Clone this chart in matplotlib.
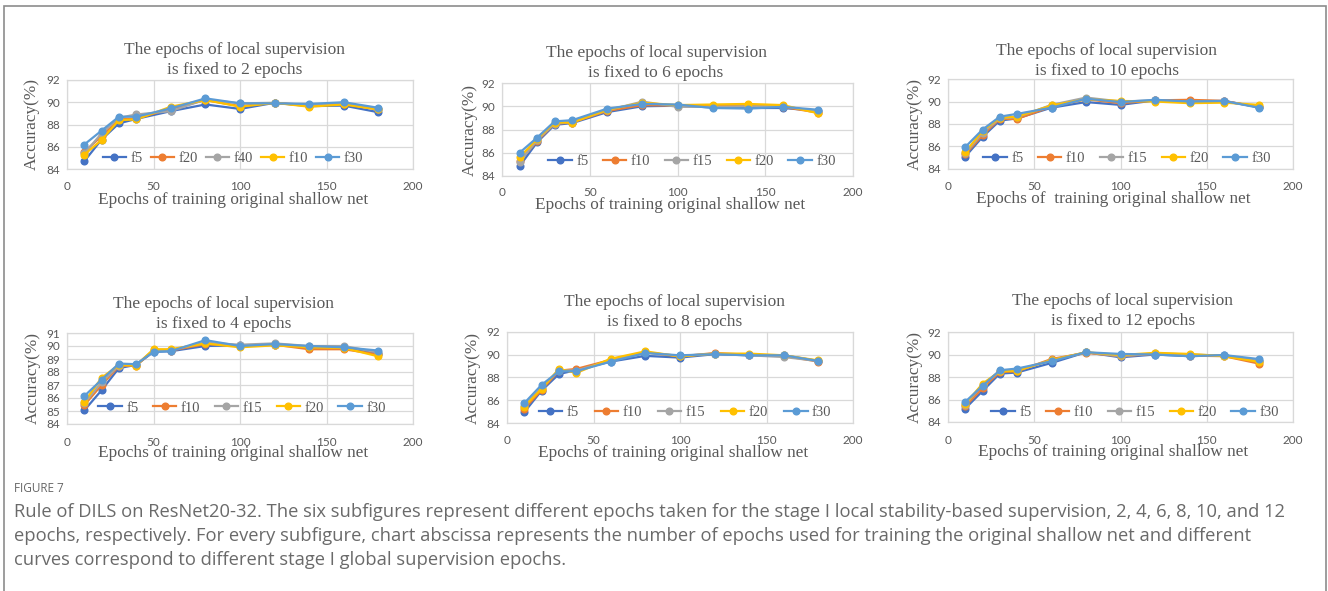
import matplotlib.pyplot as plt
from matplotlib.patches import Rectangle

W, H = 1328, 591

x_main = [10, 20, 30, 40, 60, 80, 100, 120, 140, 160, 180]
x_four = [10, 20, 30, 40, 50, 60, 80, 100, 120, 140, 160, 180]

labels_2 = ["f5", "f20", "f40", "f10", "f30"]
labels_std = ["f5", "f10", "f15", "f20", "f30"]

# local supervision = 2 epochs
e2_f5 = [84.7, 86.65, 88.1, 88.5, 89.2, 89.8, 89.4, 89.95, 89.65, 89.7, 89.1]
e2_f20 = [85.55, 86.95, 88.45, 88.55, 89.4, 90.2, 89.65, 89.95, 89.7, 89.85, 89.35]
e2_f40 = [85.4, 87.2, 88.6, 88.9, 89.2, 90.25, 89.9, 89.95, 89.75, 89.9, 89.4]
e2_f10 = [85.3, 86.6, 88.4, 88.45, 89.6, 90.2, 89.6, 89.95, 89.6, 89.8, 89.35]
e2_f30 = [86.2, 87.45, 88.7, 88.7, 89.45, 90.35, 89.9, 89.9, 89.85, 90.0, 89.5]

# 6 epochs
e6_f5 = [84.85, 86.9, 88.4, 88.55, 89.5, 90.0, 90.05, 89.9, 89.85, 89.85, 89.6]
e6_f10 = [85.3, 87.0, 88.5, 88.6, 89.6, 90.1, 90.05, 90.0, 90.05, 89.95, 89.45]
e6_f15 = [85.2, 87.1, 88.5, 88.65, 89.65, 90.4, 89.95, 89.95, 90.0, 90.0, 89.55]
e6_f20 = [85.6, 87.2, 88.6, 88.6, 89.7, 90.3, 90.1, 90.15, 90.2, 90.1, 89.4]
e6_f30 = [86.0, 87.3, 88.7, 88.8, 89.8, 90.2, 90.15, 89.85, 89.8, 89.95, 89.7]

# 10 epochs
e10_f5 = [85.1, 86.85, 88.3, 88.5, 89.45, 89.95, 89.7, 90.1, 90.05, 90.05, 89.5]
e10_f10 = [85.3, 87.0, 88.45, 88.45, 89.55, 90.2, 89.85, 90.1, 90.15, 90.05, 89.5]
e10_f15 = [85.4, 87.2, 88.5, 88.6, 89.7, 90.35, 90.0, 90.1, 90.0, 90.0, 89.55]
e10_f20 = [85.5, 87.4, 88.55, 88.65, 89.65, 90.2, 90.05, 90.0, 89.85, 89.9, 89.7]
e10_f30 = [85.95, 87.5, 88.65, 88.9, 89.45, 90.25, 89.95, 90.15, 90.0, 90.05, 89.45]

# 4 epochs (has an extra point at 50)
e4_f5 = [85.05, 86.6, 88.3, 88.55, 89.55, 89.6, 90.0, 90.05, 90.1, 89.9, 89.85, 89.4]
e4_f10 = [85.45, 87.0, 88.45, 88.5, 89.65, 89.65, 90.15, 90.0, 90.1, 89.75, 89.75, 89.35]
e4_f15 = [85.6, 87.2, 88.5, 88.55, 89.7, 89.7, 90.25, 90.1, 90.2, 90.0, 90.0, 89.5]
e4_f20 = [85.7, 87.55, 88.55, 88.5, 89.75, 89.75, 90.2, 89.9, 90.05, 89.9, 89.85, 89.2]
e4_f30 = [86.15, 87.4, 88.65, 88.6, 89.55, 89.6, 90.45, 90.0, 90.15, 90.0, 89.9, 89.65]

# 8 epochs
e8_f5 = [84.95, 86.85, 88.3, 88.65, 89.4, 89.9, 89.75, 90.05, 89.95, 89.95, 89.45]
e8_f10 = [85.25, 86.9, 88.6, 88.75, 89.55, 90.2, 89.85, 90.15, 90.0, 89.9, 89.4]
e8_f15 = [85.5, 87.1, 88.65, 88.6, 89.5, 90.2, 89.9, 90.1, 89.95, 89.8, 89.45]
e8_f20 = [85.45, 87.0, 88.75, 88.4, 89.65, 90.3, 89.85, 90.1, 90.1, 89.95, 89.5]
e8_f30 = [85.75, 87.35, 88.55, 88.55, 89.4, 90.15, 89.95, 90.05, 89.95, 89.95, 89.45]

# 12 epochs
e12_f5 = [85.2, 86.75, 88.3, 88.4, 89.25, 90.2, 89.75, 90.0, 89.85, 89.95, 89.4]
e12_f10 = [85.4, 87.0, 88.45, 88.5, 89.6, 90.15, 89.85, 90.05, 89.9, 89.85, 89.2]
e12_f15 = [85.55, 87.3, 88.5, 88.6, 89.5, 90.2, 89.85, 90.1, 90.0, 89.9, 89.4]
e12_f20 = [85.6, 87.4, 88.5, 88.55, 89.5, 90.2, 89.95, 90.15, 90.05, 89.85, 89.35]
e12_f30 = [85.8, 87.2, 88.6, 88.75, 89.4, 90.2, 90.05, 90.0, 89.85, 89.95, 89.6]

colors = ["#4472C4", "#ED7D31", "#A5A5A5", "#FFC000", "#5B9BD5"]
txt_gray = "#595959"
grid_gray = "#D9D9D9"
serif = "Liberation Serif"
tick_font = "Lato"

caption_lines = [
    "Rule of DILS on ResNet20-32. The six subfigures represent different epochs taken for the stage I local stability-based supervision, 2, 4, 6, 8, 10, and 12",
    "epochs, respectively. For every subfigure, chart abscissa represents the number of epochs used for training the original shallow net and different",
    "curves correspond to different stage I global supervision epochs.",
]

fig = plt.figure(figsize=(W / 100, H / 100), dpi=100)


def px(x, y):
    return x / W, 1 - y / H


# epochs, x, series, labels, axes box (l, t, r, b px), title centre, xlabel y, ylabel x, legend centre, legend colspacing, yticks
panels = [
    (2, x_main, [e2_f5, e2_f20, e2_f40, e2_f10, e2_f30], labels_2, (67, 80, 413, 169), (235, 50), 200, 32, (233, 158), 0.55, range(84, 93, 2)),
    (6, x_main, [e6_f5, e6_f10, e6_f15, e6_f20, e6_f30], labels_std, (502, 83, 853, 176), (656, 53), 205, 470, (692, 161), 1.0, range(84, 93, 2)),
    (10, x_main, [e10_f5, e10_f10, e10_f15, e10_f20, e10_f30], labels_std, (948, 79, 1293, 169), (1107, 51), 199, 915, (1127, 158), 1.0, range(84, 93, 2)),
    (4, x_four, [e4_f5, e4_f10, e4_f15, e4_f20, e4_f30], labels_std, (67, 333, 413, 424), (224, 304), 453, 33, (242, 408), 1.0, range(84, 92, 1)),
    (8, x_main, [e8_f5, e8_f10, e8_f15, e8_f20, e8_f30], labels_std, (507, 332, 853, 423), (675, 302), 453, 473, (685, 412), 1.1, range(84, 93, 2)),
    (12, x_main, [e12_f5, e12_f10, e12_f15, e12_f20, e12_f30], labels_std, (948, 332, 1293, 422), (1123, 301), 452, 915, (1135, 412), 1.0, range(84, 93, 2)),
]

xlab_texts = {10: "Epochs of  training original shallow net"}

for ep, xs, series, labs, box, tpos, xly, ylx, lpos, colsp, yt in panels:
    l, t, r, b = box
    ax = fig.add_axes([l / W, 1 - b / H, (r - l) / W, (b - t) / H])
    for ys, lab, c in zip(series, labs, colors):
        ax.plot(xs, ys, color=c, lw=1.6, marker="o", ms=4.8, label=lab)
    ax.set_xlim(0, 200)
    ax.set_ylim(yt[0], yt[-1])
    ax.set_xticks(range(0, 201, 50))
    ax.set_yticks(list(yt))
    ax.grid(True, color=grid_gray, lw=0.9)
    ax.set_axisbelow(True)
    for s in ax.spines.values():
        s.set_color(grid_gray)
        s.set_linewidth(0.9)
    ax.tick_params(length=0, labelsize=8.5, labelcolor=txt_gray, pad=5)
    ax.tick_params(axis="x", pad=8 if ep == 6 else 9)
    for lbl in ax.get_xticklabels() + ax.get_yticklabels():
        lbl.set_fontfamily(tick_font)

    fx, fy = px(*tpos)
    fig.text(fx, fy, "The epochs of local supervision", ha="center", va="center",
             fontsize=12.5, family=serif, color=txt_gray)
    fx, fy = px(tpos[0], tpos[1] + 20)
    fig.text(fx, fy, f"is fixed to {ep} epochs", ha="center", va="center",
             fontsize=12.5, family=serif, color=txt_gray)

    fx, fy = px((l + r) / 2 - 7, xly)
    fig.text(fx, fy, xlab_texts.get(ep, "Epochs of training original shallow net"),
             ha="center", va="center", fontsize=12.4, family=serif, color=txt_gray)
    fx, fy = px(ylx, (t + b) / 2)
    fig.text(fx, fy, "Accuracy(%)", ha="center", va="center", rotation=90,
             fontsize=12.4, family=serif, color=txt_gray)

    leg = ax.legend(loc="center", bbox_to_anchor=px(*lpos), bbox_transform=fig.transFigure,
                    ncol=5, frameon=False, handlelength=1.6, handletextpad=0.3,
                    columnspacing=colsp, borderpad=0,
                    prop={"family": serif, "size": 10.5})
    for tx in leg.get_texts():
        tx.set_color(txt_gray)

fx, fy = px(14, 489)
fig.text(fx, fy, "FIGURE 7", ha="left", va="center", fontsize=8.5, family="Open Sans", color="#666666")
for i, line in enumerate(caption_lines):
    fx, fy = px(14, 512 + 24 * i)
    fig.text(fx, fy, line, ha="left", va="center", fontsize=13.2, family="Open Sans", color="#6a6a6a")

fig.patches.append(Rectangle(px(4, 600), (1326 - 4) / W, (600 - 6) / H, transform=fig.transFigure,
                             fill=False, edgecolor="#8C8C8C", lw=1.2))

fig.savefig("out.png", dpi=100)
